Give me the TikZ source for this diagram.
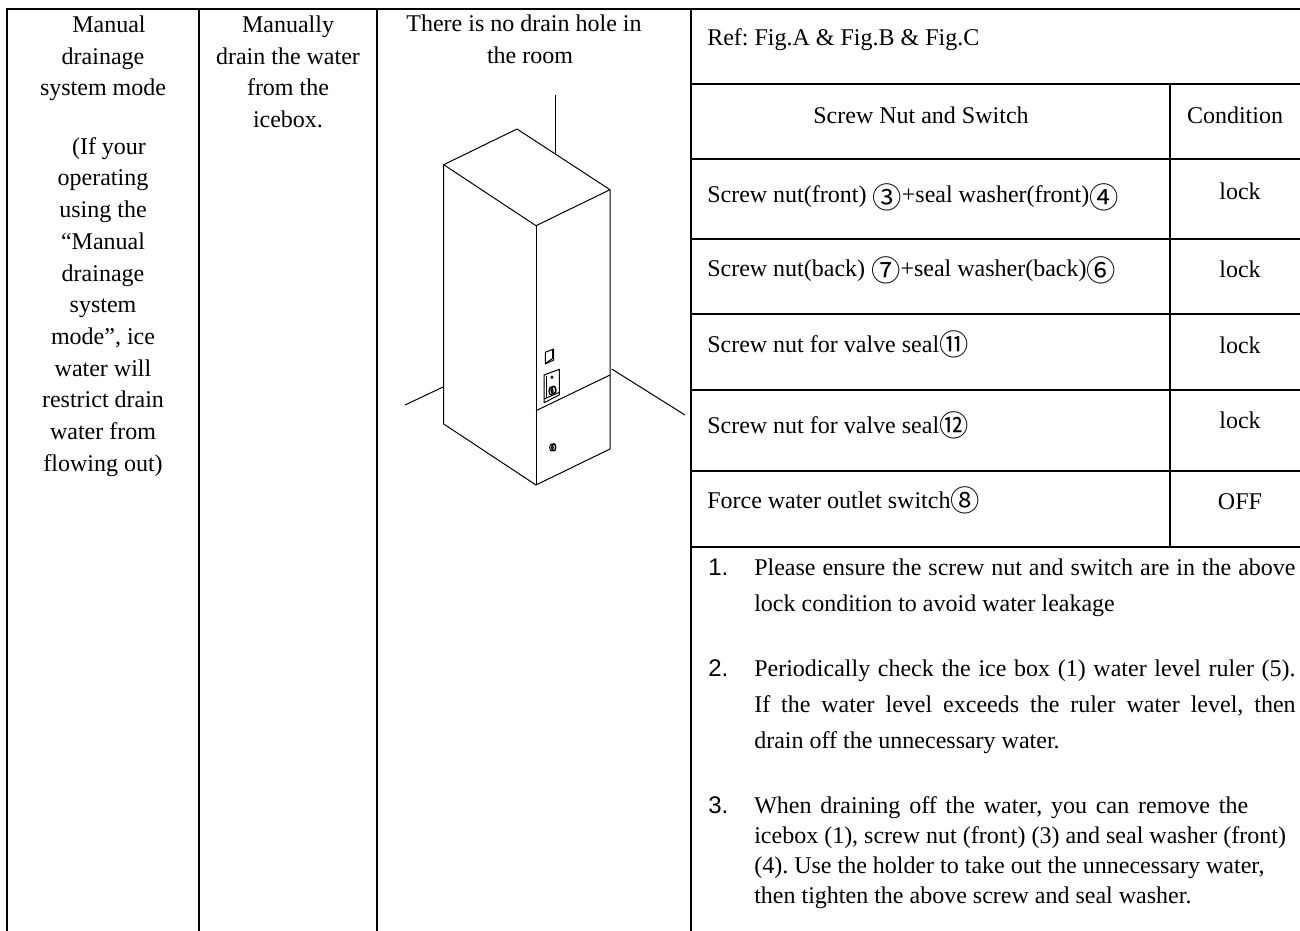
\documentclass[tikz,border=0pt]{standalone}
\usepackage{fontspec}
\setmainfont{Liberation Serif}
\newfontfamily\arialf{Liberation Sans}
\newfontfamily\cjkf{Noto Sans CJK SC}
\frenchspacing
\newcommand{\cnum}[2][-2.25pt]{\raisebox{#1}{\cjkf\fontsize{22}{22}\selectfont #2}}
\newcommand{\fitline}[2]{\makebox[#1][s]{#2}}
\tikzset{
 x=0.75pt,y=-0.75pt,
 rule/.style={line width=1.5pt,black},
 thin part/.style={line width=0.75pt,black,line join=round},
 cell/.style={inner sep=0pt,font=\fontsize{18}{23.8}\selectfont},
 col/.style={cell,align=center,anchor=north},
 lbl/.style={cell,anchor=base west},
 cond/.style={cell,anchor=base},
 para/.style={inner sep=0pt,anchor=north west,align=left,font=\fontsize{18}{27}\selectfont},
 paratight/.style={para,font=\fontsize{18}{22.5}\selectfont},
 num/.style={inner sep=0pt,anchor=base west,font=\arialf\fontsize{18}{18}\selectfont},
}
\begin{document}
\begin{tikzpicture}
\useasboundingbox (0,0) rectangle (1300,931);
\fill[white] (0,0) rectangle (1300,931);
% table rules
\foreach \x in {7,199,377,691} \draw[rule] (\x,9) -- (\x,931);
\draw[rule] (1170,84) -- (1170,547);
\draw[rule] (6,9) -- (1300,9);
\foreach \y in {84,159,239,314,390,471,547}\draw[rule] (691,\y) -- (1300,\y);
% columns
\node[col] (m) at (103,15.6) {\hspace*{9pt}Manual\\drainage\\system mode\\[19.8pt]\hspace*{9pt}(If your\\operating\\using the\\“Manual\\drainage\\system\\mode”, ice\\water will\\restrict drain\\water from\\flowing out)};
\node[col] (d) at (288,15.6) {Manually\\drain the water\\from the\\icebox.};
\node[col] (r) at (524,14.6) {There is no drain hole in\\\hspace*{9pt}the room};
% right table
\node[lbl] (ref) at (707,46) {Ref: Fig.A \& Fig.B \& Fig.C};
\node[cell,anchor=base] (h1) at (921,123) {Screw Nut and Switch};
\node[cell,anchor=base] (h2) at (1235,123) {Condition};
\node[lbl] (a) at (707,202) {Screw nut(front) \cnum[-4.5pt]{③}+seal washer(front)\cnum[-4.5pt]{④}};
\node[cond] (ac) at (1240,199) {lock};
\node[lbl] (b) at (707,276) {Screw nut(back) \cnum[-4pt]{⑦}+seal washer(back)\cnum[-4pt]{⑥}};
\node[cond] (bc) at (1240,277) {lock};
\node[lbl] (c1) at (707,352) {Screw nut for valve seal\cnum{⑪}};
\node[cond] (cc) at (1240,353) {lock};
\node[lbl] (e) at (707,433) {Screw nut for valve seal\cnum{⑫}};
\node[cond] (ec) at (1240,428) {lock};
\node[lbl] (f) at (707,508) {Force water outlet switch\cnum{⑧}};
\node[cond] (fc) at (1240,509) {OFF};
% notes
\node[num] (n1) at (708,575) {1.};
\node[para] (p1) at (754,558.6) {\fitline{406pt}{Please ensure the screw nut and switch are in the above}\\lock condition to avoid water leakage};
\node[num] (n2) at (708,676) {2.};
\node[para] (p2) at (754,659.6) {\fitline{406pt}{Periodically check the ice box (1) water level ruler (5).}\\\fitline{406pt}{If the water level exceeds the ruler water level, then}\\drain off the unnecessary water.};
\node[num] (n3) at (708,813) {3.};
\node[paratight] (p3) at (754,796.6) {\fitline{370.5pt}{When draining off the water, you can remove the}\\icebox (1), screw nut (front) (3) and seal washer (front)\\(4). Use the holder to take out the unnecessary water,\\then tighten the above screw and seal washer.};
% cabinet
\begin{scope}[thin part]
\draw (443.7,164.7) -- (517,129) -- (610,189.7) -- (536,225.7) -- cycle;
\draw (443.7,164.7) -- (443.7,424) -- (536,485) -- (610,449) -- (610,189.7);
\draw (536,225.7) -- (536,485);
\draw (536,410.7) -- (610,375);
\draw (555,95) -- (555,153);
\draw (405,405) -- (443.7,386.7);
\draw (611.7,369) -- (685,415);
\draw (545.3,352.3) -- (553.7,349) -- (553.7,360) -- (545.3,364) -- cycle;
\draw (546,363) -- (552.5,358.5) -- (552.5,350);
\draw (544,375) -- (559.3,369.3) -- (559.3,395) -- (544,402.7) -- cycle;
\draw (544,399) -- (559,392.5);
\draw (546,376) -- (546,398);
\draw[line width=1.2pt] (553.5,390) ellipse (2.4 and 3.8);
\draw[line width=0.9pt] (551,391) ellipse (2 and 4);
\fill (552,377.3) circle (1.6);
\draw[line width=1.1pt] (553.7,447.3) ellipse (2 and 3.6);
\draw (551.5,447.5) ellipse (1.8 and 3.4);
\end{scope}
\end{tikzpicture}
\end{document}
